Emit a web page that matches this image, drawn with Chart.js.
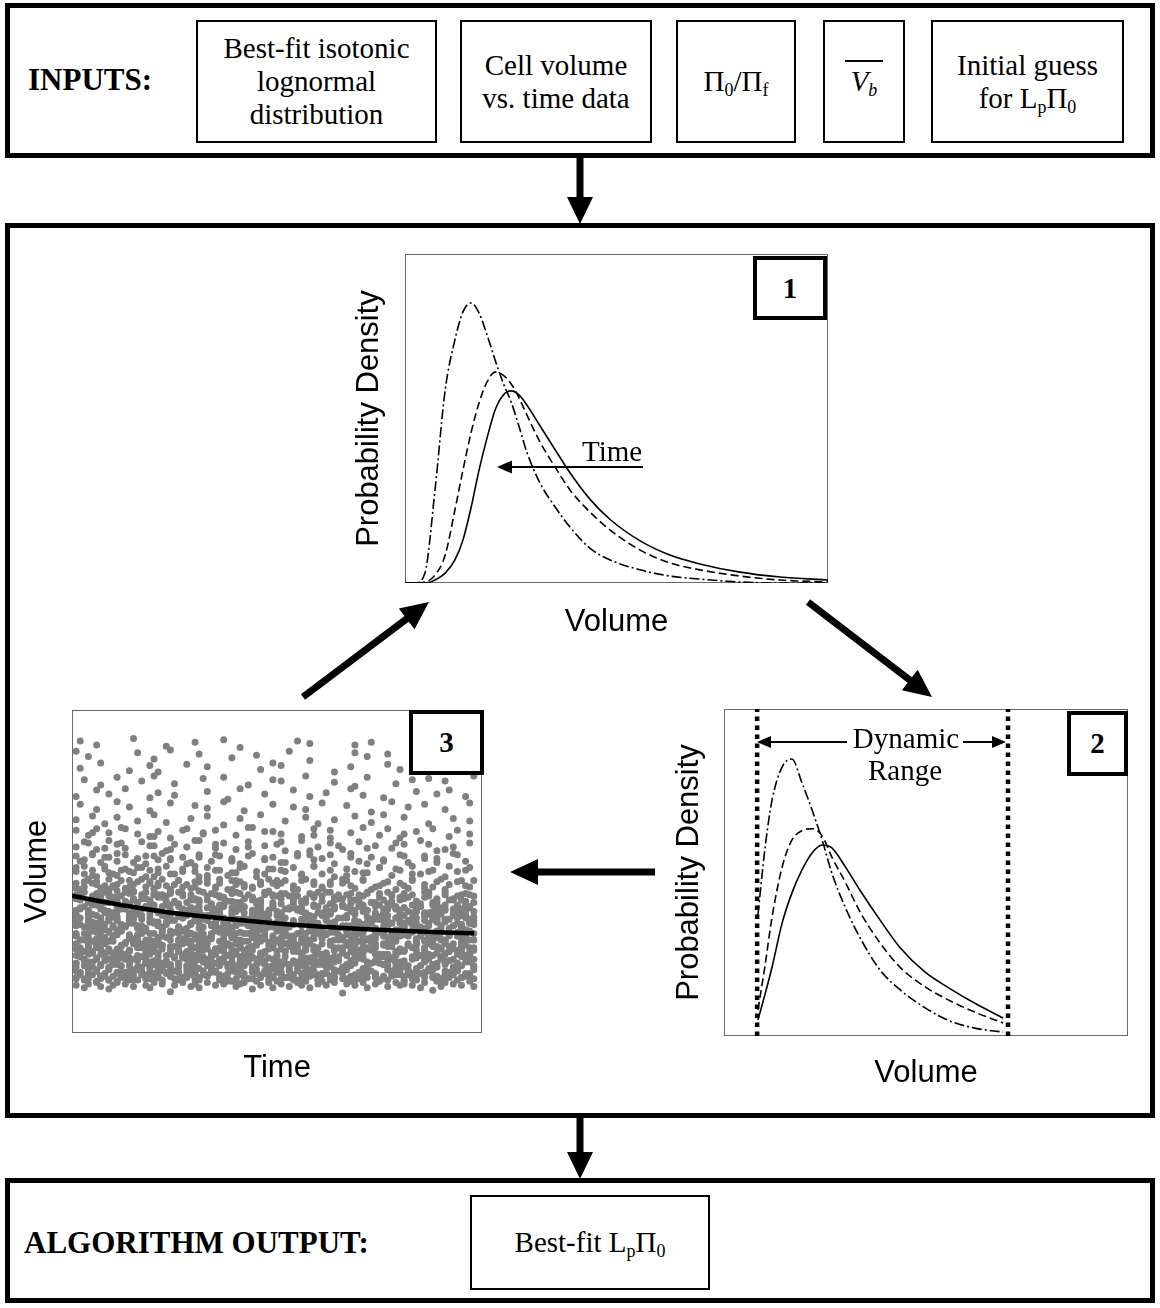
<!DOCTYPE html>
<html>
<head>
<meta charset="utf-8">
<title>Lp fitting algorithm</title>
<script src="https://cdn.jsdelivr.net/npm/chart.js@4.4.1/dist/chart.umd.min.js"></script>
<style>
  html, body { margin: 0; padding: 0; background: #fff; }
  #page { position: relative; width: 1160px; height: 1308px; overflow: hidden;
          font-family: "Liberation Serif", "Times New Roman", serif; color: #000; }
  .panel { position: absolute; box-sizing: border-box; border: 5px solid #000; }
  .box { position: absolute; box-sizing: border-box; border: 2px solid #000; background: #fff;
         display: flex; align-items: center; justify-content: center; text-align: center;
         font-size: 29px; line-height: 33px; }
  .tag { position: absolute; box-sizing: border-box; border: 4px solid #000; background: #fff;
         display: flex; align-items: center; justify-content: center;
         font-weight: bold; font-size: 29px; z-index: 3; }
  .head { position: absolute; font-weight: bold; font-size: 31px; line-height: 31px; white-space: nowrap; }
  .note { position: absolute; font-size: 29px; line-height: 29px; white-space: nowrap; z-index: 3; }
  .centered { transform: translateX(-50%); }
  sub { font-size: 0.62em; vertical-align: -0.28em; line-height: 0; }
  .vbar { border-top: 2px solid #000; padding: 3px 6px 0 6px; }
  canvas { position: absolute; }
  svg { position: absolute; left: 0; top: 0; z-index: 2; }
</style>
</head>
<body>
<div id="page">
  <!-- inputs -->
  <div class="panel" style="left:5px; top:3px; width:1150px; height:155px;"></div>
  <div class="head" style="left:28px; top:64px;">INPUTS:</div>
  <div class="box" style="left:196px; top:20px; width:241px; height:123px;"><div>Best-fit isotonic<br>lognormal<br>distribution</div></div>
  <div class="box" style="left:460px; top:20px; width:192px; height:123px;"><div>Cell volume<br>vs. time data</div></div>
  <div class="box" style="left:676px; top:20px; width:120px; height:123px;"><div>&Pi;<sub>0</sub>/&Pi;<sub>f</sub></div></div>
  <div class="box" style="left:823px; top:20px; width:82px; height:123px;"><div><span class="vbar"><i>V</i><sub><i>b</i></sub></span></div></div>
  <div class="box" style="left:931px; top:20px; width:193px; height:123px;"><div>Initial guess<br>for L<sub>p</sub>&Pi;<sub>0</sub></div></div>

  <!-- iteration loop -->
  <div class="panel" style="left:5px; top:223px; width:1150px; height:895px;"></div>
  <canvas id="chartDist" width="479" height="388" style="left:351px; top:252px;"></canvas>
  <canvas id="chartRange" width="459" height="384" style="left:671px; top:707px;"></canvas>
  <canvas id="chartFit" width="467" height="380" style="left:19px; top:706px;"></canvas>

  <div class="tag" style="left:753px; top:256px; width:74px; height:64px;">1</div>
  <div class="tag" style="left:1067px; top:711px; width:61px; height:65px;">2</div>
  <div class="tag" style="left:409px; top:710px; width:75px; height:65px;">3</div>

  <div class="note" style="left:582px; top:437px;">Time</div>
  <div class="note centered" style="left:906px; top:724px;">Dynamic</div>
  <div class="note centered" style="left:905px; top:756px;">Range</div>

  <!-- output -->
  <div class="panel" style="left:5px; top:1178px; width:1150px; height:125px;"></div>
  <div class="head" style="left:24px; top:1227px;">ALGORITHM OUTPUT:</div>
  <div class="box" style="left:470px; top:1195px; width:240px; height:95px;"><div>Best-fit L<sub>p</sub>&Pi;<sub>0</sub></div></div>

  <svg id="arrows" width="1160" height="1308"></svg>
</div>

<script>
// panel 1: volume distributions at three times (latest = narrowest)
const distVolume = [0, 2.4, 4.7, 7.1, 9.5, 11.8, 13.7, 15.6, 17.5, 19.4, 21.3, 23.2, 25.1,
                    27.0, 28.8, 31.9, 35.5, 39.0, 43.7, 48.5, 55.6, 62.6, 69.7, 79.2, 88.7, 100];
const distEarly = [0, 0, 0, 0.009, 0.030, 0.070, 0.131, 0.228, 0.343, 0.441, 0.526, 0.571, 0.584,
                   0.571, 0.541, 0.478, 0.405, 0.335, 0.255, 0.193, 0.128, 0.085, 0.058, 0.033, 0.018, 0.009];
const distMiddle = [0, 0, 0.003, 0.024, 0.085, 0.222, 0.343, 0.456, 0.547, 0.611, 0.641, 0.632, 0.605,
                    0.562, 0.511, 0.429, 0.352, 0.283, 0.216, 0.161, 0.100, 0.061, 0.040, 0.021, 0.009, 0.003];
const distLate = [0, 0, 0.030, 0.283, 0.587, 0.739, 0.824, 0.851, 0.821, 0.754, 0.678, 0.608, 0.550,
                  0.474, 0.398, 0.304, 0.231, 0.170, 0.106, 0.070, 0.040, 0.021, 0.012, 0.003, 0, 0];

// panel 2: same distributions cut to the dynamic range of the counter
const rangeVolume = [8.4, 10.1, 11.9, 14.4, 16.8, 19.3, 21.8, 24.3, 26.7, 30.0, 33.7, 38.6, 43.6, 49.8, 55.9, 62.1, 69.1];
const rangeEarly = [0.049, 0.125, 0.211, 0.346, 0.437, 0.508, 0.560, 0.584, 0.575, 0.518, 0.445, 0.355, 0.270, 0.195, 0.145, 0.100, 0.055];
const rangeMiddle = [0.080, 0.211, 0.364, 0.517, 0.599, 0.628, 0.634, 0.612, 0.547, 0.471, 0.379, 0.285, 0.210, 0.150, 0.108, 0.073, 0.040];
const rangeLate = [0.370, 0.569, 0.722, 0.823, 0.847, 0.774, 0.691, 0.599, 0.498, 0.394, 0.300, 0.202, 0.141, 0.086, 0.046, 0.024, 0.012];
const rangeLimits = [8.2, 70.3];

// panel 3: fitted mean volume vs time
const fitTime = [0, 6.8, 14.1, 21.1, 31.1, 40.8, 49.3, 60.2, 69.4, 79.6, 89.3, 98.1];
const fitVolume = [42.5, 40.8, 39.2, 37.8, 36.2, 35.0, 34.0, 33.0, 32.3, 31.7, 31.2, 30.9];

// panel 3: measured cells. One row per band; each character is one time step (1..98),
// '.' = no cell, a digit d = one cell at volume floor + 0.4*d
const cloudFloor = [12, 16, 16, 20, 20, 24, 24, 28, 28, 32, 32, 36, 36, 40, 40, 44, 44,
                    48, 48, 52, 52, 56, 56, 60, 60, 64, 68, 72, 76, 80, 84, 88,
                    16, 20, 24, 28, 32, 36, 40,
                    16, 20, 24, 28, 32, 36];
const cloudRows = [
  ['7.58.96.47', '9.8.6..759', '.8.27.9.68', '5.9.7.8..6', '89.4.7.95.', '8.6.97.5.8', '.7.9.18.7.', '95.8..6.97', '8.7.59.3.6', '9.8.7..6'],
  ['3716.82594', '0.73518264', '91.4870356', '2849.13607', '5.27938140', '6395.27481', '0714.69352', '83.602947.', '1569.38402', '47.93602'],
  ['8.2950461.', '73.819.526', '4068273.91', '1.59734082', '96.205.738', '2381.60975', '5.47892013', '69.314.857', '08276.9341', '5.81.469'],
  ['4920.83617', '58.2719406', '3.61849275', '09734.5182', '6251.93807', '19.4026583', '7385.12649', '02.6937815', '4.79260318', '56139.72'],
  ['1.63572904', '8274.01953', '60.3918247', '7521.68.30', '94.8356172', '2.06471895', '3759.0.268', '81.5493702', '6.90258147', '3.742851'],
  ['9.36285041', '17.4968253', '2805.71396', '54.0263819', '6.17923580', '83.5614972', '0295.68314', '7.46180925', '3968.41075', '2.519864'],
  ['06.8371952', '4293.06.17', '85.1739260', '3.92546081', '7164.02893', '59.3827.46', '1.84630792', '2657.91.03', '48.1059726', '93.47016'],
  ['5.72938014', '69.3158207', '1846.29573', '0.37915862', '27.6849031', '4951.07268', '3.18640597', '8205.74.19', '6.93527048', '15.76392'],
  ['72.4190385', '8.06357921', '49.2873016', '6315.92847', '0.78213.59', '2604.81937', '57.9326148', '1.43870265', '9582.14.73', '06.81527'],
  ['8.25619473', '04.7938165', '3167.20.58', '92.4615083', '5.89371246', '7034.5.962', '18.5920376', '4.61837590', '2795.03.81', '6.394057'],
  ['39.6147082', '7.25813.96', '6048.29157', '1.73590428', '85.2601.34', '9427.38510', '0.56193.72', '3681.74.05', '2.49075863', '71.52984'],
  ['1.84296530', '76.3.51829', '4209.83176', '5.71638.04', '93.2480571', '0.6857.193', '2746.91.38', '85.30.6972', '1.94823057', '6.3719.4'],
  ['57.2918.43', '0.6143.857', '3892.05.71', '4.17389.26', '68.5102.94', '2.79643.08', '1537.8.629', '40.2961.85', '7.3580.416', '9.62.470'],
  ['4.92637185', '06.8314927', '7529.06.43', '1.38765.29', '84.5219.76', '0.63.1487.', '2.9574.03.', '68.1.392.5', '4.7.05813.', '9.36.27.'],
  ['73.1584962', '2.90417.38', '5.6829.174', '39.0.64281', '1.7503.96.', '48.26.1.59', '6.034.78.2', '.91.5.07.3', '85.2.96.1.', '7.4.38.6'],
  ['6138.72.94', '5.2807.361', '49.1583.27', '0.6.39.185', '73.2.5.068', '.8.41.9.7.', '3.5..68.2.', '9.1.4.7..6', '.28..5.3.9', '1..7.4.8'],
  ['2.7965.413', '08.35.9.72', '6.41.8.5.3', '7.9.26..18', '.5.3.7.9.4', '6..1.8..5.', '2.7..9.4..', '8..3.6..1.', '4.9..2..7.', '.5..8.3.'],
  ['8.3.61.94.', '2.75.8.16.', '4.9.3.7..5', '1.8.6..2.4', '.9..5.3.7.', '6..8.2..9.', '3..1..7.5.', '.4..8..2.6', '..9.3..6..', '1..5..8.'],
  ['5.9.2..7.3', '.6..4.8..1', '7..3..5..9', '..2..6..4.', '8...1..7..', '.5...3..9.', '..6...2...', '4...8...7.', '..3...5...', '.9...6..'],
  ['7.4.9.2.6.', '3.8..5.1.7', '.9.4..6.2.', '8..3.7..5.', '1..9..4.6.', '.2..7..8..', '5..1...9.3', '..6..4...8', '.2...7..5.', '..9..3..'],
  ['.3..8..6..', '9...2..7..', '4..5...1..', '6...8...3.', '..7...5...', '2...9...4.', '..8....6..', '.1...3....', '7....5..2.', '...8....'],
  ['4..7.2..9.', '6.3...8..5', '..1.6..4..', '9...3.7..2', '..8...5..6', '.1...9...4', '..7..2...8', '...5...3..', '6...9...1.', '..4...7.'],
  ['..8....3..', '.7......5.', '...2.....9', '....6.....', '..4.......', '8......1..', '....5.....', '.3......7.', '......6...', '2.......'],
  ['7..3.8..5.', '.9...4..2.', '6..1...8..', '.5..7....3', '..9...6...', '4....2..8.', '..7....5..', '9...3....1', '...6...8..', '.2....4.'],
  ['....5.....', '..8......2', '......7...', '.4........', '...9....6.', '........3.', '..1.......', '......8...', '4.........', '...7....'],
  ['5...8..2..', '7....4...9', '..3.....6.', '..8...1...', '6....9....', '.4....7..2', '...5....8.', '..3..9....', '7.....2...', '..6...4.'],
  ['.7...3....', '9..5....2.', '...8.....6', '..4...9...', '.2......7.', '...5..3...', '8.....6...', '..1....9..', '.5...7....', '3.....8.'],
  ['3....8..5.', '..9.....2.', '6...4.....', '..7....1..', '9.....5...', '...8...3..', '.6.....9..', '4....2....', '...7....5.', '.8...3..'],
  ['..6...2...', '8.....5..9', '....3.....', '.7....8...', '..2.....6.', '5.....9...', '...4....1.', '.8......3.', '..6...7...', '5......9'],
  ['.5....9...', '...3....7.', '2......8..', '..6.......', '.....4..9.', '7.........', '...2...6..', '......8..4', '..3.......', '.7...5..'],
  ['8..4......', '.....7...2', '...9......', '6.......3.', '....5.....', '..8....1..', '........7.', '.4....6...', '......2...', '..9.....'],
  ['.6...3....', '....8.....', '..2......5', '......7...', '1.........', '....6..4..', '........3.', '..5.......', '....7.....', '8.......'],
  ['.5.2.84.1.', '6.3.9.7..2', '.8.4.1.6.9', '3..7.5.2.8', '.1.9..6.4.', '7.3.8.5..1', '.6.2.9.4.7', '2.8..3.6.5', '.9.1.7..4.', '8.5.3.'],
  ['4.7.1..9.3', '.2.6.8.5..', '9.3..4.7.1', '.6.8.2..5.', '3.9.7..1.6', '.4..5.8.2.', '7.1.9.3..8', '.5.6..2.4.', '1..8.7.3.9', '.6.2.5.7'],
  ['.3.8.6.2..', '5.1..9.7.4', '.8.3.6..2.', '7.5.1..9.3', '.4..8.2.6.', '9.7.3.5..1', '.2.6..8.4.', '3..9.1.7.5', '.8.4.2..6.', '1.9.5.3.'],
  ['6.2..8.4.1', '.9.5.3..7.', '2..6.1.8.4', '.7.3..9.5.', '8.1.6.4..2', '.5..7.3.9.', '4.8.2..6.1', '.3.9.5.7..', '6..1.8.4.2', '.7.5.9.'],
  ['.4.9..2.7.', '8.3.5.1..6', '.2..7.9.4.', '5.8.1..3.6', '.9.4.2.7..', '3..6.8.1.5', '.7.2..9.4.', '1.5.8.3..7', '.6..2.4.9.', '8.3.1.5.'],
  ['2..5.9.3..', '.7.1..6.8.', '4.9..2.5.3', '.1.8.6..7.', '9..3.5.2.4', '.6.7..1.8.', '3.2..9.4..', '.5.8.1..6.', '7..4.3.9.2', '..1.6.8.'],
  ['.8..3.6.1.', '5.2.9..4..', '.7..1.8.3.', '2.6..5..9.', '.4.3..7.1.', '8..6.2..5.', '.9..4..3.7', '..1.8..6..', '5..2..9.4.', '.3..7..1'],
  ['2..6.9.4..', '.8.1..5.7.', '3.7..2.9.6', '.5..8.4..1', '9.2.6..3.7', '..4.1.8.5.', '6..9.2..3.', '.7.5..1.8.', '4..2.6.9..', '.3.8..5'],
  ['.9.5..2.7.', '3..8.6..1.', '.4.2..9.5.', '8..1.7.3..', '.6.9..4.2.', '5.3..8..7.', '.1..6.2.9.', '7.4..3..5.', '.2.9..7.1.', '6..4.8.'],
  ['5..1.7..3.', '.8.4..9.6.', '2..7.3..1.', '.9..5.8.4.', '6.2..1..7.', '.3.8..6.5.', '9..4.2..8.', '.5.1..7.3.', '4..9.6..2.', '.7..3.1'],
  ['.2.7..4.9.', '8..3.6..1.', '.5.9..2.7.', '3..6.8..4.', '.1.4..7.2.', '9..5.3..8.', '.6.2..9.1.', '4..8.5..3.', '.7.1..6.9.', '2..5.4.'],
  ['7..2.5..8.', '.4.9..1.6.', '3..7.2..5.', '.8..4.9.1.', '6.3..7..2.', '.9.5..8.4.', '1..6.3..7.', '.2.8..5.9.', '5..3.1..6.', '.8..4.7'],
  ['.6.3..8.1.', '4..9.2..7.', '.1.5..6.3.', '8..2.9..4.', '.7..5.1.8.', '3.6..4..9.', '.2.8..7.5.', '9..1.3..6.', '.4.7..2.8.', '5..9.1.']
];

const SANS = "'Liberation Sans', Arial, sans-serif";

function pairs(xs, ys) {
  return xs.map(function (x, i) { return {x: x, y: ys[i]}; });
}

function cloudPoints() {
  var pts = [];
  cloudRows.forEach(function (chunks, r) {
    var row = chunks.join('');
    for (var i = 0; i < row.length; i++) {
      var c = row.charAt(i);
      if (c === '.') continue;
      pts.push({x: i + 1, y: cloudFloor[r] + Number(c) * 0.4});
    }
  });
  return pts;
}

// thin grey box round the plot area
var framePlugin = {
  id: 'frame',
  beforeDatasetsDraw: function (chart) {
    var a = chart.chartArea, ctx = chart.ctx;
    ctx.save();
    ctx.strokeStyle = '#6a6a6a';
    ctx.lineWidth = 1;
    ctx.strokeRect(Math.round(a.left) + 0.5, Math.round(a.top) + 0.5,
                   Math.round(a.right - a.left) - 1, Math.round(a.bottom - a.top) - 1);
    ctx.restore();
  }
};

function axisOptions(xTitle, yTitle, xGap, yGap, yMax) {
  var hidden = {display: false, drawTicks: false};
  var titleFont = {family: SANS, size: 31, lineHeight: '36px'};
  return {
    responsive: false,
    animation: false,
    events: [],
    layout: {padding: {top: 2, right: 2, left: 0, bottom: 0}},
    plugins: {legend: {display: false}, tooltip: {enabled: false}},
    scales: {
      x: {
        type: 'linear', min: 0, max: 100,
        grid: hidden, border: {display: false}, ticks: {display: false},
        title: {display: true, text: xTitle, color: '#000', font: titleFont,
                padding: {top: xGap, bottom: 0}}
      },
      y: {
        type: 'linear', min: 0, max: yMax,
        grid: hidden, border: {display: false}, ticks: {display: false},
        title: {display: true, text: yTitle, color: '#000', font: titleFont,
                padding: {top: 0, bottom: yGap}}
      }
    }
  };
}

function curve(points, dash) {
  return {
    data: points,
    borderColor: '#000',
    borderWidth: 1.6,
    borderDash: dash,
    pointRadius: 0,
    fill: false,
    cubicInterpolationMode: 'monotone'
  };
}

var DASHED = [8, 4];
var DASH_DOT = [10, 3, 2, 3];

new Chart(document.getElementById('chartDist'), {
  type: 'line',
  data: {
    datasets: [
      curve(pairs(distVolume, distEarly), []),
      curve(pairs(distVolume, distMiddle), DASHED),
      curve(pairs(distVolume, distLate), DASH_DOT)
    ]
  },
  options: axisOptions('Volume', 'Probability Density', 21, 18, 1),
  plugins: [framePlugin]
});

var limitSets = rangeLimits.map(function (v) {
  return {
    data: [{x: v, y: 0}, {x: v, y: 1}],
    borderColor: '#000',
    borderWidth: 4.5,
    borderDash: [4.5, 4.5],
    borderCapStyle: 'butt',
    pointRadius: 0,
    fill: false
  };
});

new Chart(document.getElementById('chartRange'), {
  type: 'line',
  data: {
    datasets: [
      curve(pairs(rangeVolume, rangeEarly), []),
      curve(pairs(rangeVolume, rangeMiddle), DASHED),
      curve(pairs(rangeVolume, rangeLate), DASH_DOT)
    ].concat(limitSets)
  },
  options: axisOptions('Volume', 'Probability Density', 19, 17, 1),
  plugins: [framePlugin]
});

new Chart(document.getElementById('chartFit'), {
  type: 'scatter',
  data: {
    datasets: [
      {
        type: 'line',
        data: pairs(fitTime, fitVolume),
        borderColor: '#000',
        borderWidth: 4.5,
        pointRadius: 0,
        fill: false,
        cubicInterpolationMode: 'monotone'
      },
      {
        data: cloudPoints(),
        pointRadius: 3.5,
        pointBackgroundColor: '#808080',
        pointBorderWidth: 0
      }
    ]
  },
  options: axisOptions('Time', 'Volume', 17, 17, 100),
  plugins: [framePlugin]
});

// flow arrows between the panels
function arrowPoints(x1, y1, x2, y2, shaft, headLen, headW) {
  var dx = x2 - x1, dy = y2 - y1, len = Math.hypot(dx, dy);
  var ux = dx / len, uy = dy / len, nx = -uy, ny = ux;
  var bx = x2 - ux * headLen, by = y2 - uy * headLen;
  var s = shaft / 2, h = headW / 2;
  var pts = [
    [x1 + nx * s, y1 + ny * s], [bx + nx * s, by + ny * s], [bx + nx * h, by + ny * h],
    [x2, y2], [bx - nx * h, by - ny * h], [bx - nx * s, by - ny * s], [x1 - nx * s, y1 - ny * s]
  ];
  return pts.map(function (p) { return p[0].toFixed(1) + ',' + p[1].toFixed(1); }).join(' ');
}

var arrows = [
  [580, 158, 580, 224, 7, 27, 26],
  [580, 1117, 580, 1179, 7, 27, 26],
  [303, 697, 429, 602, 7, 28, 26],
  [808, 602, 932, 697, 7, 28, 26],
  [655, 872, 510, 872, 7, 28, 26],
  [643, 467, 497, 467, 2, 15, 13],
  [847, 742, 757, 742, 2, 14, 12],
  [963, 742, 1006, 742, 2, 14, 12]
];
var svg = document.getElementById('arrows');
arrows.forEach(function (a) {
  var poly = document.createElementNS('http://www.w3.org/2000/svg', 'polygon');
  poly.setAttribute('points', arrowPoints.apply(null, a));
  poly.setAttribute('fill', '#000');
  svg.appendChild(poly);
});
</script>
</body>
</html>
